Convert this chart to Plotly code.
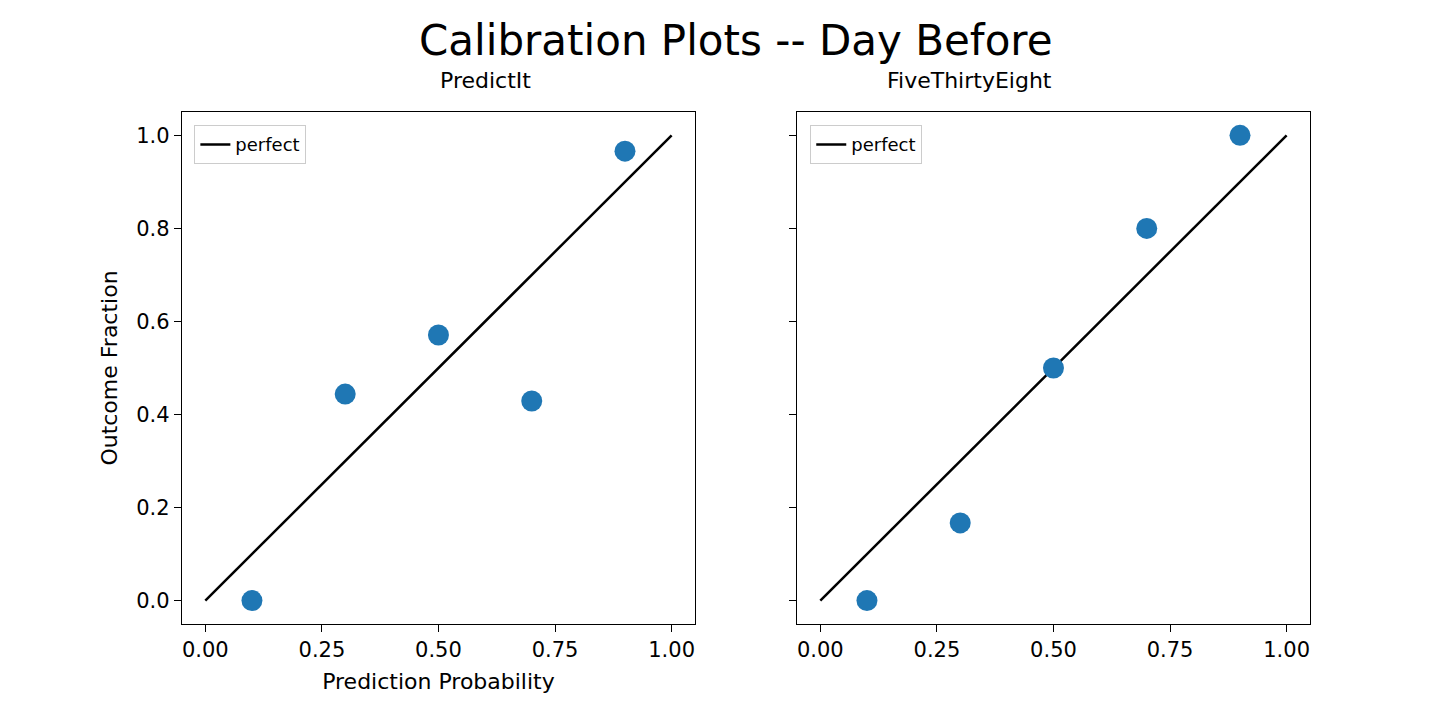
import plotly.graph_objects as go

pred = [0.1, 0.3, 0.5, 0.7, 0.9]
pi_outcome = [0.0, 0.444, 0.571, 0.429, 0.966]
fte_outcome = [0.0, 0.167, 0.5, 0.8, 1.0]
perfect = [0.0, 1.0]
ticks = [0, 0.25, 0.5, 0.75, 1.0]
ticktext = ["0.00", "0.25", "0.50", "0.75", "1.00"]
yticks = [0, 0.2, 0.4, 0.6, 0.8, 1.0]

F = "DejaVu Sans"
fig = go.Figure()
for i, (ys, leg) in enumerate([(pi_outcome, "legend"), (fte_outcome, "legend2")]):
    xa = "x" if i == 0 else "x2"
    ya = "y" if i == 0 else "y2"
    fig.add_trace(go.Scatter(x=perfect, y=perfect, mode="lines", line=dict(color="black", width=2.5),
                             name="perfect", xaxis=xa, yaxis=ya, legend=leg))
    fig.add_trace(go.Scatter(x=pred, y=ys, mode="markers", marker=dict(color="#1f77b4", size=21),
                             showlegend=False, xaxis=xa, yaxis=ya))

ax = dict(range=[-0.05, 1.05], showgrid=False, zeroline=False, showline=True, mirror=True,
          linecolor="black", linewidth=1.3, ticks="outside", ticklen=7, tickcolor="black",
          tickfont=dict(family=F, size=21, color="black"))
fig.update_layout(
    width=1456, height=728, margin=dict(l=0, r=0, t=0, b=0),
    plot_bgcolor="white", paper_bgcolor="white", font=dict(family=F, color="black"),
    xaxis=dict(ax, domain=[0.1195, 0.4718], tickvals=ticks, ticktext=ticktext, anchor="y",
               title=dict(text="Prediction Probability", font=dict(size=22), standoff=12)),
    yaxis=dict(ax, domain=[0.154, 0.857], tickvals=yticks, tickformat=".1f", anchor="x",
               title=dict(text="Outcome Fraction", font=dict(size=22), standoff=12)),
    xaxis2=dict(ax, domain=[0.5419, 0.8942], tickvals=ticks, ticktext=ticktext, anchor="y2"),
    yaxis2=dict(ax, domain=[0.154, 0.857], tickvals=yticks, showticklabels=False, anchor="x2"),
    legend=dict(x=0.128, y=0.839, xanchor="left", yanchor="top", bordercolor="#cccccc", borderwidth=1,
                font=dict(size=18), bgcolor="white"),
    legend2=dict(x=0.551, y=0.839, xanchor="left", yanchor="top", bordercolor="#cccccc", borderwidth=1,
                 font=dict(size=18), bgcolor="white"),
    annotations=[
        dict(text="Calibration Plots -- Day Before", x=0.5, y=0.956, xref="paper", yref="paper", showarrow=False,
             yanchor="middle", font=dict(size=42)),
        dict(text="PredictIt", x=0.2955, y=0.901, xref="paper", yref="paper", showarrow=False,
             yanchor="middle", font=dict(size=22)),
        dict(text="FiveThirtyEight", x=0.7184, y=0.901, xref="paper", yref="paper", showarrow=False,
             yanchor="middle", font=dict(size=22)),
    ],
)
fig.write_html("out.html")
